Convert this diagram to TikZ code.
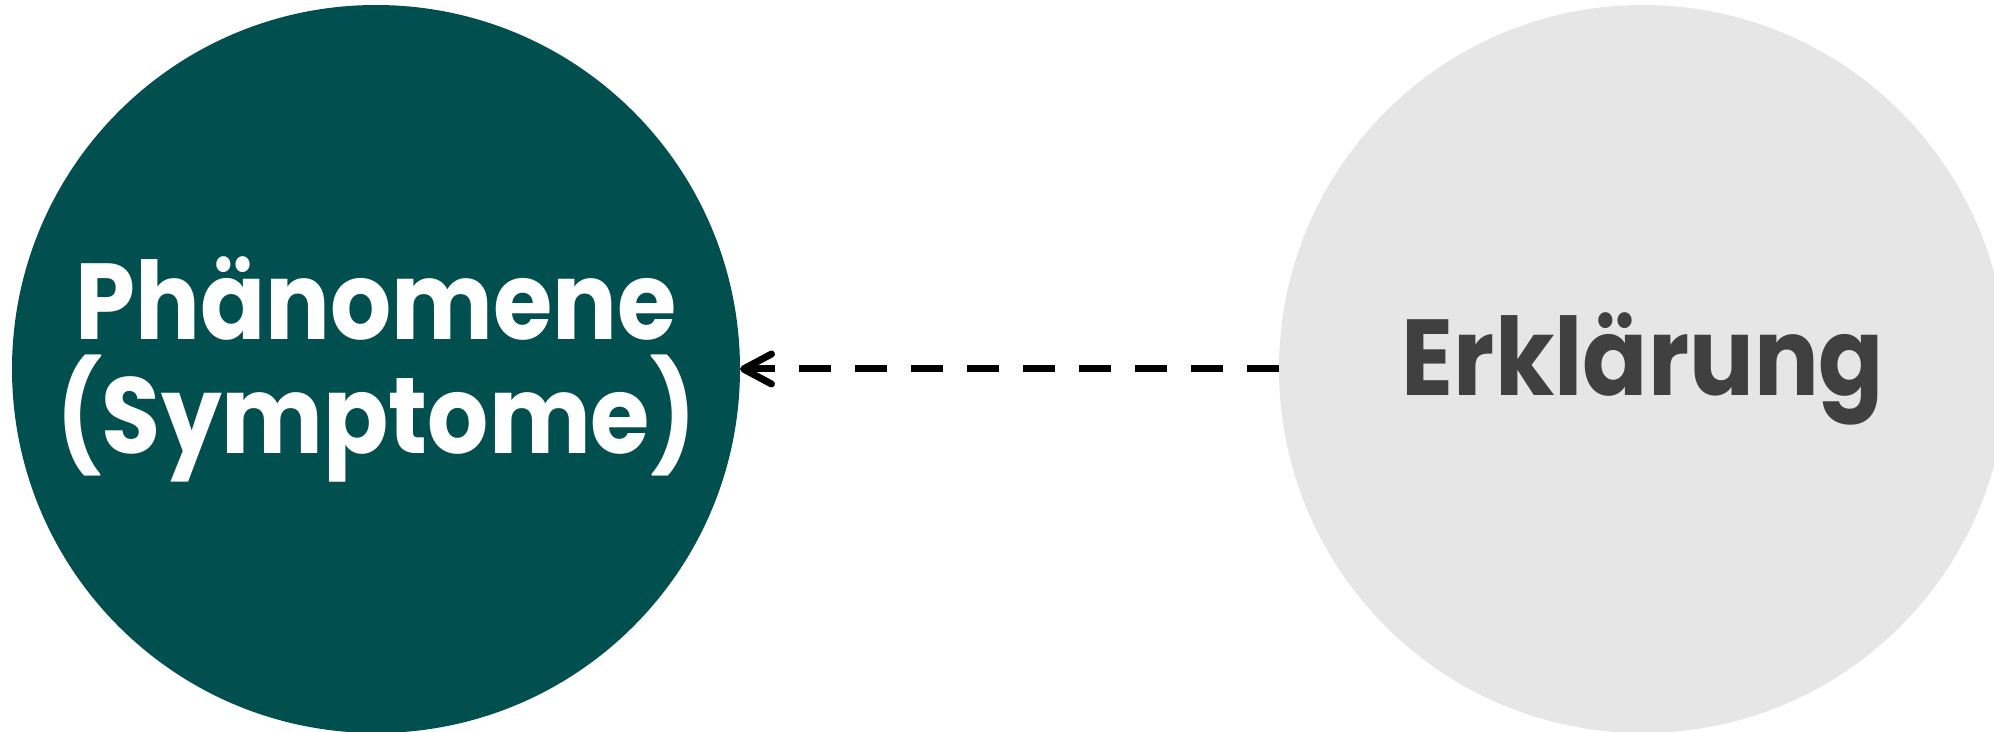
\documentclass[tikz,border=0pt]{standalone}
\usepackage{fontspec}
\setmainfont{Poppins}[FakeStretch=0.89]
\usetikzlibrary{arrows.meta}
\definecolor{bubbleteal}{HTML}{024F50}
\definecolor{bubblegray}{HTML}{E6E6E6}
\definecolor{darkgraytext}{HTML}{404040}
\tikzset{
  bubble/.style={circle, minimum size=364pt, inner sep=0pt, outer sep=0pt, align=center,
    font=\bfseries\fontsize{54}{57}\selectfont},
  conn/.style={line width=3.5pt, dash pattern=on 16pt off 12pt,
    -{Straight Barb[length=14pt, width=15pt, round]}}
}
\begin{document}
\begin{tikzpicture}[x=1pt,y=1pt]
\useasboundingbox (0,0) rectangle (997,-366);
\node[bubble, fill=bubbleteal, text=white] (phen) at (188,-184.5) {Phänomene\\(Symptome)};
\node[bubble, fill=bubblegray, text=darkgraytext] (erk) at (821.5,-184.5) {Erklärung};
\draw[conn] (erk.west) -- (phen.east);
\end{tikzpicture}
\end{document}
